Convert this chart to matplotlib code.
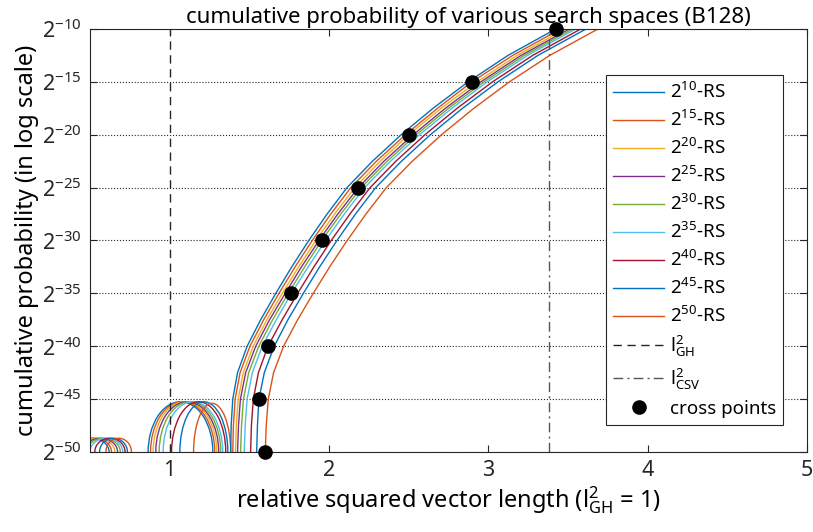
import matplotlib
matplotlib.use('Agg')
import matplotlib.pyplot as plt
from matplotlib.patches import Arc

plt.rcParams['font.family'] = ['Noto Sans', 'DejaVu Sans']
plt.rcParams['mathtext.fontset'] = 'custom'
plt.rcParams['mathtext.rm'] = 'Noto Sans'
plt.rcParams['mathtext.it'] = 'Noto Sans'
plt.rcParams['mathtext.default'] = 'regular'

# search space sizes (log2) and MATLAB default line colours
space_exp = [10, 15, 20, 25, 30, 35, 40, 45, 50]
colors = ['#0072BD', '#D95319', '#EDB120', '#7E2F8E', '#77AC30',
          '#4DBEEE', '#A2142F', '#0072BD', '#D95319']

# log2 cumulative probability levels where the curves were read
levels = [-50, -47.5, -45, -42.5, -40, -37.5, -35, -32.5, -30,
          -27.5, -25, -22.5, -20, -17.5, -15, -12.5, -10]

# relative squared length at each level, one list per search space
rs10 = [1.383, 1.386, 1.396, 1.426, 1.486, 1.571, 1.666, 1.766, 1.873,
        1.988, 2.113, 2.273, 2.453, 2.653, 2.873, 3.123, 3.423]
rs15 = [1.396, 1.400, 1.411, 1.442, 1.504, 1.590, 1.686, 1.787, 1.895,
        2.011, 2.137, 2.298, 2.480, 2.681, 2.897, 3.153, 3.454]
rs20 = [1.413, 1.418, 1.430, 1.462, 1.524, 1.610, 1.707, 1.809, 1.918,
        2.035, 2.162, 2.322, 2.500, 2.704, 2.929, 3.181, 3.483]
rs25 = [1.426, 1.432, 1.444, 1.477, 1.540, 1.627, 1.725, 1.827, 1.937,
        2.055, 2.184, 2.345, 2.528, 2.730, 2.953, 3.205, 3.508]
rs30 = [1.445, 1.451, 1.463, 1.496, 1.559, 1.646, 1.744, 1.847, 1.954,
        2.074, 2.202, 2.365, 2.547, 2.750, 2.973, 3.225, 3.528]
rs35 = [1.468, 1.474, 1.486, 1.519, 1.581, 1.669, 1.764, 1.869, 1.978,
        2.096, 2.223, 2.386, 2.568, 2.771, 2.993, 3.246, 3.548]
rs40 = [1.508, 1.513, 1.525, 1.557, 1.617, 1.706, 1.803, 1.905, 2.014,
        2.131, 2.258, 2.420, 2.602, 2.804, 3.026, 3.278, 3.580]
rs45 = [1.546, 1.551, 1.560, 1.594, 1.656, 1.742, 1.839, 1.941, 2.050,
        2.166, 2.293, 2.455, 2.636, 2.838, 3.060, 3.311, 3.613]
rs50 = [1.600, 1.606, 1.619, 1.652, 1.715, 1.803, 1.901, 2.004, 2.114,
        2.232, 2.360, 2.523, 2.706, 2.909, 3.132, 3.385, 3.688]
curves = [rs10, rs15, rs20, rs25, rs30, rs35, rs40, rs45, rs50]

# small bumps below the main curves: start, end, peak height
mid_arc_start = [0.865, 0.880, 0.896, 0.913, 0.934, 0.959, 1.012, 1.064, 1.150]
mid_arc_end = [1.271, 1.283, 1.296, 1.308, 1.321, 1.333, 1.352, 1.365, 1.383]
mid_arc_peak = [-45.25, -45.25, -45.25, -45.25, -45.25, -45.25, -45.25, -45.25, -45.4]
low_arc_start = [0.40, 0.42, 0.44, 0.46, 0.48, 0.50, 0.53, 0.56, 0.60]
low_arc_end = [0.62, 0.635, 0.655, 0.673, 0.69, 0.705, 0.72, 0.735, 0.76]
low_arc_peak = -48.7

# crossing points of 2^k-RS with probability 2^-k
cross_x = [1.600, 1.560, 1.617, 1.764, 1.954, 2.184, 2.500, 2.897, 3.423]
cross_y = [-50, -45, -40, -35, -30, -25, -20, -15, -10]

l_gh = 1.0
l_csv = 3.38

xticks = [1, 2, 3, 4, 5]
yticks = [-50, -45, -40, -35, -30, -25, -20, -15, -10]
ytick_labels = [r'$2^{-50}$', r'$2^{-45}$', r'$2^{-40}$', r'$2^{-35}$', r'$2^{-30}$',
                r'$2^{-25}$', r'$2^{-20}$', r'$2^{-15}$', r'$2^{-10}$']

fig = plt.figure(figsize=(8.13, 5.32), dpi=100)
ax = fig.add_axes([0.1107, 0.1504, 0.8819, 0.7951])

handles = []
for k, xs in enumerate(curves):
    ln, = ax.plot(xs, levels, color=colors[k], lw=1.0)
    handles.append(ln)
    s, e = mid_arc_start[k], mid_arc_end[k]
    ax.add_patch(Arc(((s + e) / 2, -50), e - s, 2 * (mid_arc_peak[k] + 50),
                     theta1=0, theta2=180, color=colors[k], lw=1.0))
    s, e = low_arc_start[k], low_arc_end[k]
    ax.add_patch(Arc(((s + e) / 2, -50), e - s, 2 * (low_arc_peak + 50),
                     theta1=0, theta2=180, color=colors[k], lw=1.0))

h_gh = ax.axvline(l_gh, color='#262626', lw=1.0, ls=(0, (6, 4)))
h_csv = ax.axvline(l_csv, color='#555555', lw=1.0, ls=(0, (7, 3, 1.5, 3)))
h_cp, = ax.plot(cross_x, cross_y, 'o', color='black', ms=9.5, clip_on=False, zorder=5)

labels = [r'$2^{%d}$-RS' % n for n in space_exp]
labels += [r'$l^{2}_{GH}$', r'$l^{2}_{CSV}$', 'cross points']
leg = ax.legend(handles + [h_gh, h_csv, h_cp], labels, loc='upper right',
                bbox_to_anchor=(0.967, 0.892), borderaxespad=0, fontsize=13.5,
                frameon=True, fancybox=False, edgecolor='#262626', framealpha=1,
                handlelength=2.7, labelspacing=0.42, borderpad=0.4,
                handletextpad=0.3)
leg.get_frame().set_linewidth(0.8)

ax.set_xlim(0.5, 5)
ax.set_ylim(-50, -10)
ax.set_xticks(xticks)
ax.set_yticks(yticks)
ax.set_yticklabels(ytick_labels)
ax.yaxis.grid(True, ls=':', color='#262626', lw=0.8)
ax.tick_params(direction='in', top=True, right=True, length=5, width=0.8,
               labelsize=15.5, colors='#262626', pad=6)
for sp in ax.spines.values():
    sp.set_linewidth(0.8)
    sp.set_color('#262626')

ax.set_title('cumulative probability of various search spaces (B128)', fontsize=16,
             pad=4, x=0.528)
ax.set_xlabel(r'relative squared vector length ($l^{2}_{GH}$ = 1)', fontsize=17, labelpad=2)
ax.set_ylabel('cumulative probability (in log scale)', fontsize=17, labelpad=2)

fig.savefig('out.png', dpi=100)
